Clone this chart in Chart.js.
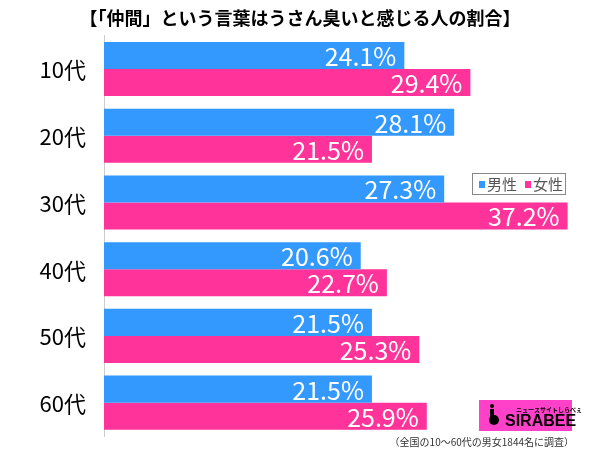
<!DOCTYPE html>
<html>
<head>
<meta charset="utf-8">
<script src="https://cdn.jsdelivr.net/npm/chart.js@4/dist/chart.umd.min.js"></script>
<style>
  body { margin: 0; background: #fff; }
  #wrap { position: relative; width: 600px; height: 449px; }
</style>
</head>
<body>
<div id="wrap"><canvas id="myChart" width="600" height="449"></canvas></div>
<script>
const titleText = "【「仲間」という言葉はうさん臭いと感じる人の割合】";
const labels = ["10代", "20代", "30代", "40代", "50代", "60代"];
const male = [24.1, 28.1, 27.3, 20.6, 21.5, 21.5];
const female = [29.4, 21.5, 37.2, 22.7, 25.3, 25.9];
const seriesNames = ["男性", "女性"];
const noteText = "（全国の10～60代の男女1844名に調査）";

const blue = "#3399ff";
const pink = "#ff3399";
const jpFont = "'Noto Sans CJK JP', 'Noto Sans', sans-serif";

// category labels, % numbers, legend, note and logo
const extras = {
  id: "extras",
  afterDatasetsDraw(chart) {
    const ctx = chart.ctx;
    const yScale = chart.scales.y;
    ctx.save();

    ctx.font = "22px " + jpFont;
    ctx.fillStyle = "#000";
    ctx.textAlign = "right";
    ctx.textBaseline = "middle";
    labels.forEach((lab, i) => {
      ctx.fillText(lab, yScale.right - 18, yScale.getPixelForTick(i) + 1);
    });

    chart.data.datasets.forEach((ds, i) => {
      const meta = chart.getDatasetMeta(i);
      meta.data.forEach((bar, j) => {
        ctx.font = "25px " + jpFont;
        ctx.fillStyle = "#fff";
        ctx.textAlign = "right";
        ctx.textBaseline = "middle";
        ctx.fillText(ds.data[j].toFixed(1) + "%", bar.x - 8, bar.y + 1);
      });
    });

    // legend
    ctx.strokeStyle = "#888";
    ctx.lineWidth = 1;
    ctx.fillStyle = "#fff";
    ctx.fillRect(472.5, 173.5, 93, 21);
    ctx.strokeRect(472.5, 173.5, 93, 21);
    ctx.font = "15px " + jpFont;
    ctx.textAlign = "left";
    ctx.textBaseline = "middle";
    ctx.fillStyle = blue;
    ctx.fillRect(479, 181, 6, 7);
    ctx.fillStyle = "#555";
    ctx.fillText(seriesNames[0], 487, 184);
    ctx.fillStyle = pink;
    ctx.fillRect(525, 181, 6, 7);
    ctx.fillStyle = "#555";
    ctx.fillText(seriesNames[1], 533, 184);

    // logo
    ctx.fillStyle = "#ff40c8";
    ctx.fillRect(479, 400, 93, 31);
    ctx.fillStyle = "#000";
    ctx.font = "bold 16px 'Liberation Sans Narrow', 'Liberation Sans', sans-serif";
    ctx.textAlign = "left";
    ctx.textBaseline = "alphabetic";
    ctx.fillText("SIRABEE", 505, 426);
    ctx.beginPath();
    ctx.arc(494, 420, 5, 0, Math.PI * 2);
    ctx.fill();
    ctx.fillRect(490, 409, 4, 8);
    ctx.beginPath();
    ctx.arc(492, 406, 2, 0, Math.PI * 2);
    ctx.fill();
    ctx.font = "bold 6px " + jpFont;
    ctx.fillText("ニュースサイトしらべぇ", 516, 412);

    // note
    ctx.font = "10px " + jpFont;
    ctx.fillStyle = "#333";
    ctx.textAlign = "right";
    ctx.textBaseline = "middle";
    ctx.fillText(noteText, 574, 442);
    ctx.restore();
  }
};

new Chart(document.getElementById("myChart"), {
  type: "bar",
  data: {
    labels: labels,
    datasets: [
      { label: seriesNames[0], data: male, backgroundColor: blue, borderWidth: 0 },
      { label: seriesNames[1], data: female, backgroundColor: pink, borderWidth: 0 }
    ]
  },
  options: {
    indexAxis: "y",
    responsive: false,
    animation: false,
    categoryPercentage: 0.81,
    barPercentage: 1,
    layout: { padding: { left: 0, right: 0, top: 0, bottom: 13 } },
    plugins: {
      legend: { display: false },
      tooltip: { enabled: false },
      title: {
        display: true,
        text: titleText,
        color: "#000",
        font: { size: 18, weight: "bold", family: jpFont },
        padding: { top: 7, bottom: 7 }
      }
    },
    scales: {
      x: {
        min: 0,
        max: 39.8,
        display: false
      },
      y: {
        afterFit(axis) { axis.width = 104; },
        grid: { display: false },
        border: { color: "#ccc", width: 1 },
        ticks: { display: false }
      }
    }
  },
  plugins: [extras]
});
</script>
</body>
</html>
